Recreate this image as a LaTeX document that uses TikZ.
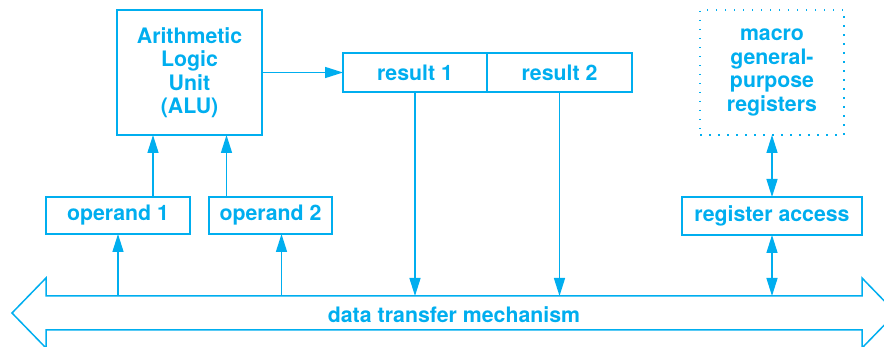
\documentclass[tikz,border=0pt]{standalone}
\usepackage{fontspec}
\setmainfont{TeX Gyre Heros}
\usepackage{tikz}
\usetikzlibrary{arrows.meta}
\definecolor{pcyan}{HTML}{00AEEF}

\begin{document}
\begin{tikzpicture}[x=1pt, y=-1pt, line width=1.5pt, pcyan,
  box/.style={draw, inner sep=0pt, outer sep=0pt, align=center,
    font=\fontsize{21.3}{23.5}\selectfont\bfseries},
  flow/.style={-{Triangle[length=18pt,width=11pt]}},
  both/.style={{Triangle[length=18pt,width=11pt]}-{Triangle[length=18pt,width=11pt]}}]
  \path[use as bounding box] (0,0) rectangle (884,347);
  \clip (0,0) rectangle (884,347);

  % boxes
  \node[box, minimum width=145, minimum height=125] (alu) at (189.5,72.5)
    {Arithmetic\\Logic\\Unit\\(ALU)};
  \node[box, minimum width=144, minimum height=39] (res1) at (415,72.5) {result 1};
  \node[box, minimum width=145, minimum height=39] (res2) at (559.5,72.5) {result 2};
  \node[box, minimum width=144, minimum height=37] (op1) at (118,215.5) {operand 1};
  \node[box, minimum width=123, minimum height=37] (op2) at (270.5,215.5) {operand 2};
  \node[box, minimum width=144, minimum height=125, dash pattern=on 1.5pt off 7.5pt]
    (regs) at (772,72.5) {macro\\\mbox{general-}\\purpose\\registers};
  \node[box, minimum width=180, minimum height=38] (acc) at (772,216) {register access};

  % bus
  \draw[line join=miter] (12,313) -- (46,278) -- (46,296) -- (862,296) -- (862,278)
    -- (896,313) -- (862,348) -- (862,330) -- (46,330) -- (46,348) -- cycle;
  \node[box, draw=none, minimum width=816, minimum height=34] (bus) at (454,315)
    {data transfer mechanism};

  % connectors
  \coordinate (in1) at ([xshift=35pt]op1.north);
  \coordinate (in2) at ([xshift=-44pt]op2.north);
  \coordinate (ld2) at ([xshift=11pt]op2.south);
  \draw[flow] (in1) -- (in1 |- alu.south);
  \draw[flow] (in2) -- (in2 |- alu.south);
  \draw[flow] (alu.east) -- (res1.west);
  \draw[flow] (op1.south |- 0,296) -- (op1.south);
  \draw[flow] (ld2 |- 0,296) -- (ld2);
  \foreach \r in {res1,res2}
    \draw[flow] (\r.south) -- (\r.south |- 0,296);
  \draw[both] (regs.south) -- (acc.north);
  \draw[both] (acc.south) -- (acc.south |- 0,296);
\end{tikzpicture}
\end{document}
